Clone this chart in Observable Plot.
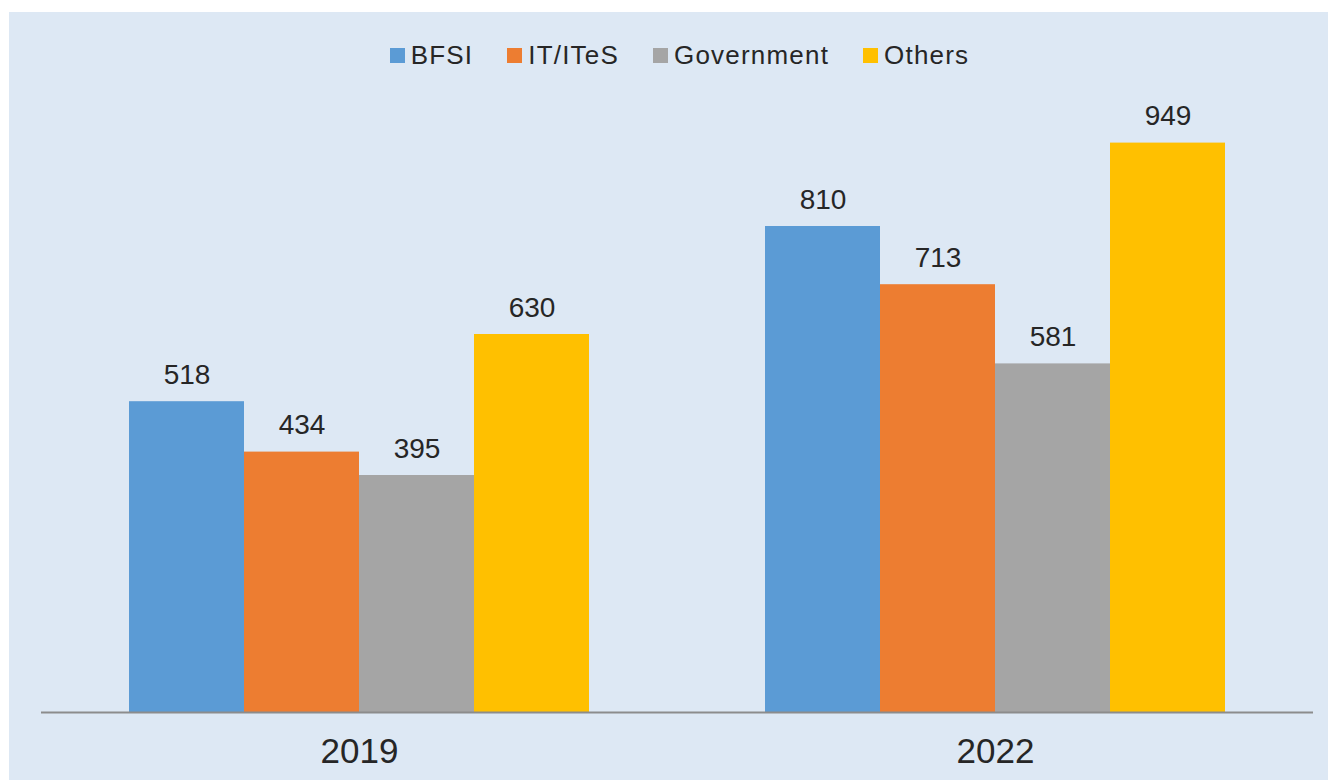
<!DOCTYPE html>
<html>
<head>
<meta charset="utf-8">
<script src="https://cdn.jsdelivr.net/npm/d3@7"></script>
<script src="https://cdn.jsdelivr.net/npm/@observablehq/plot@0.6"></script>
<style>
  html, body { margin: 0; padding: 0; background: #ffffff; width: 1328px; height: 780px; overflow: hidden; }
  #panel { position: absolute; left: 9px; top: 12px; width: 1319px; height: 768px; background: #dde8f4; }
  #legend { height: 73px; padding-top: 14px; display: flex; justify-content: center; align-items: center; font-family: "Liberation Sans", Arial, sans-serif; font-size: 26px; letter-spacing: 1.2px; color: #262626; padding-left: 22px; box-sizing: border-box; }
  .item { display: flex; align-items: center; margin: 0 17px; }
  .sw { width: 15px; height: 15px; margin-right: 6px; }
  #chart svg { display: block; }
</style>
</head>
<body>
<div id="panel">
  <div id="legend"></div>
  <div id="chart"></div>
</div>
<script>
const years = ["2019", "2022"];
const segments = ["BFSI", "IT/ITeS", "Government", "Others"];
const colors = ["#5b9bd5", "#ed7d31", "#a5a5a5", "#ffc000"];
const values2019 = [518, 434, 395, 630];
const values2022 = [810, 713, 581, 949];

const series = { "2019": values2019, "2022": values2022 };
const data = years.flatMap(y => segments.map((s, i) => ({ year: y, segment: s, value: series[y][i] })));

const legend = document.getElementById("legend");
segments.forEach((s, i) => {
  const it = document.createElement("div");
  it.className = "item";
  const sw = document.createElement("div");
  sw.className = "sw";
  sw.style.background = colors[i];
  const tx = document.createElement("span");
  tx.textContent = s;
  it.appendChild(sw); it.appendChild(tx);
  legend.appendChild(it);
});

const chart = Plot.plot({
  width: 1319,
  height: 695,
  marginLeft: 31,
  marginRight: 15,
  marginTop: 27,
  marginBottom: 68,
  style: { background: "transparent", fontFamily: "\"Liberation Sans\", Arial, sans-serif", color: "#262626" },
  fx: { domain: years, padding: 0, label: null },
  x: { domain: segments, paddingInner: 0, paddingOuter: 0.7555, axis: null },
  y: { domain: [0, 1000], axis: null },
  color: { domain: segments, range: colors },
  marks: [
    Plot.barY(data, { fx: "year", x: "segment", y: "value", fill: "segment", inset: 0 }),
    Plot.ruleY([0], { stroke: "#8c8c8c", strokeWidth: 2 }),
    Plot.text(data, { fx: "year", x: "segment", y: "value", text: d => String(d.value), lineAnchor: "bottom", dy: -18, fontSize: 28, fill: "#262626" }),
    Plot.axisFx({ anchor: "bottom", tickSize: 0, tickPadding: 26, fontSize: 35, label: null, fill: "#262626" })
  ]
});
document.getElementById("chart").appendChild(chart);
</script>
</body>
</html>
